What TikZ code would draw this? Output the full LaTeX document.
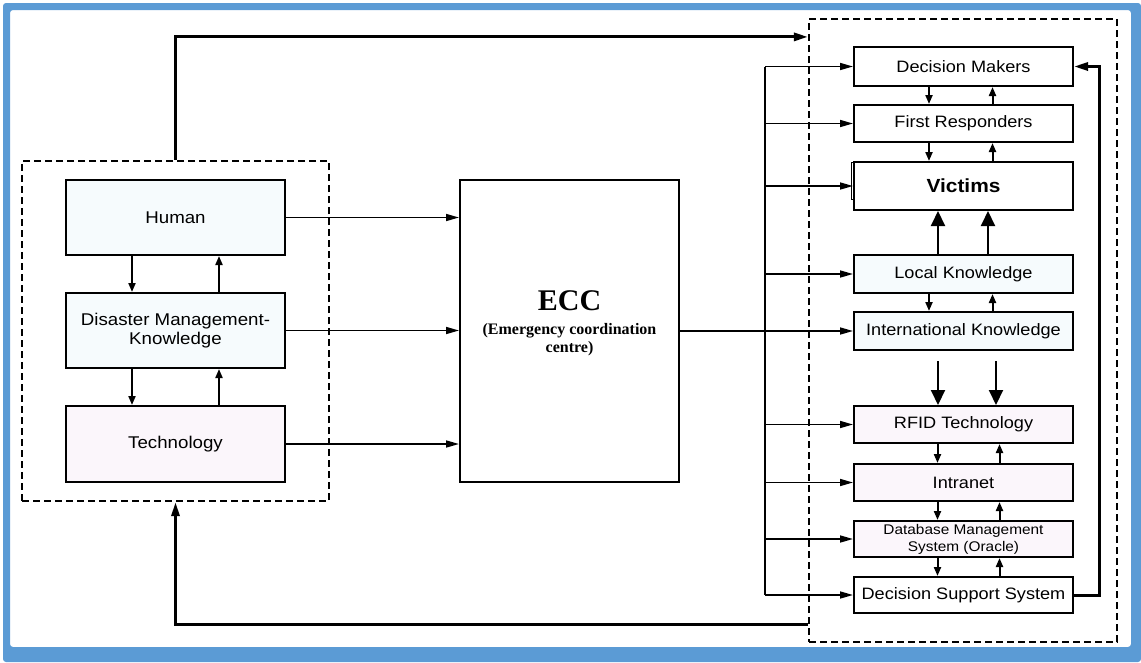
\documentclass[tikz,border=0pt]{standalone}
\usepackage{fontspec}
\setmainfont{Liberation Serif}
\newfontfamily\boxfont[FakeStretch=1.1]{Liberation Sans}
\usetikzlibrary{arrows.meta,positioning}
\definecolor{framebl}{HTML}{5B9BD5}
\definecolor{cyanfill}{HTML}{F6FBFD}
\definecolor{lilacfill}{HTML}{FBF6FB}

\begin{document}
\begin{tikzpicture}[x=1pt,y=-1pt,
    every node/.style={font=\boxfont\fontsize{16.5}{19}\selectfont},
    box/.style={draw,line width=2pt,minimum width=219pt,inner sep=0pt,align=center},
    group/.style={draw,line width=2.2pt,dash pattern=on 7pt off 4pt,inner sep=0pt},
    arr/.style={line width=2pt,-{Triangle[length=9pt,width=7pt]}},
    thinarr/.style={line width=1.6pt,-{Triangle[length=13pt,width=7pt]}},
    bigarr/.style={line width=2pt,-{Triangle[length=15pt,width=14pt]}},
    loop/.style={line width=3pt,-{Triangle[length=14pt,width=8pt]}}]
    \useasboundingbox (0,0) rectangle (1141,662);
    \fill[framebl,even odd rule,rounded corners=3pt] (3,3) rectangle (1141,662) (10,10) rectangle (1131,647);

    % left group
    \node[group,minimum width=307pt,minimum height=340pt] (lgroup) at (175.5,331) {};
    \node[box,fill=cyanfill,minimum height=75pt,font=\boxfont\fontsize{17}{19}\selectfont] (human) at (175.5,217.5) {Human};
    \node[box,fill=cyanfill,minimum height=75pt,font=\boxfont\fontsize{17}{19}\selectfont] (dmk) at (175.5,330.5) {Disaster Management-\\Knowledge};
    \node[box,fill=lilacfill,minimum height=76pt,font=\boxfont\fontsize{17}{19}\selectfont] (tech) at (175.5,444) {Technology};

    % ECC
    \node[box,minimum height=302pt] (ecc) at (569.5,331) {};
    \node[font=\rmfamily\bfseries\fontsize{16}{18}\selectfont,align=center] (ecclabel) at ([yshift=8pt]ecc.center)
        {{\fontsize{30}{32}\selectfont ECC}\\[6pt](Emergency coordination\\centre)};

    % right group
    \node[group,minimum width=308pt,minimum height=623pt] (rgroup) at (963,330.5) {};
    \node[box,minimum height=39pt] (dm) at (963.5,66.5) {Decision Makers};
    \node[box,minimum height=37pt] (fr) at (963.5,123.5) {First Responders};
    \draw[line width=1pt] (851,162) rectangle (1071,199);
    \node[box,fill=white,minimum height=48pt,font=\boxfont\bfseries\fontsize{19}{22}\selectfont] (vic) at (963.5,186) {Victims};
    \node[box,fill=cyanfill,minimum height=38pt] (lk) at (963.5,274) {Local Knowledge};
    \node[box,fill=cyanfill,minimum height=38pt] (ik) at (963.5,331) {International Knowledge};
    \node[box,fill=lilacfill,minimum height=37pt] (rfid) at (963.5,424.5) {RFID Technology};
    \node[box,fill=lilacfill,minimum height=37pt] (intra) at (963.5,482.5) {Intranet};
    \node[box,fill=lilacfill,minimum height=36pt,font=\boxfont\fontsize{14}{17}\selectfont] (dbms) at (963.5,539) {Database Management\\System (Oracle)};
    \node[box,minimum height=36pt] (dss) at (963.5,595) {Decision Support System};

    % arrows between boxes
    \foreach \a/\b in {human/dmk,dmk/tech} {
        \draw[arr] ([xshift=-43.5pt]\a.south) -- ([xshift=-43.5pt]\b.north);
        \draw[arr] ([xshift=43.5pt]\b.north) -- ([xshift=43.5pt]\a.south);
    }
    \foreach \a/\b in {dm/fr,fr/vic,lk/ik} {
        \draw[arr] ([xshift=-34.5pt]\a.south) -- ([xshift=-34.5pt]\b.north);
        \draw[arr] ([xshift=29pt]\b.north) -- ([xshift=29pt]\a.south);
    }
    \foreach \a/\b in {rfid/intra,intra/dbms,dbms/dss} {
        \draw[arr] ([xshift=-26pt]\a.south) -- ([xshift=-26pt]\b.north);
        \draw[arr] ([xshift=36pt]\b.north) -- ([xshift=36pt]\a.south);
    }
    \foreach \dx in {-25.5,24.5}
        \draw[bigarr] ([xshift=\dx pt]lk.north) -- ([xshift=\dx pt]vic.south);
    \foreach \dx in {-25.5,32.5}
        \draw[bigarr] ([xshift=\dx pt,yshift=-10pt]ik.south) -- ([xshift=\dx pt]rfid.north);

    % into and out of ECC
    \foreach \n in {human,dmk,tech}
        \draw[thinarr] (\n.east) -- (ecc.west |- \n.east);
    \draw[thinarr] (ecc.east) -- (ik.west);

    % bus
    \coordinate (bus) at (765,0);
    \draw[line width=2.5pt] (bus |- dm.west) -- (bus |- dss.west);
    \foreach \n in {dm,fr,vic,lk,rfid,intra,dbms,dss}
        \draw[thinarr] (bus |- \n.west) -- (\n.west);

    % feedback loops
    \draw[loop] (dss.east) -| ([xshift=25pt]dm.east) -- (dm.east);
    \draw[loop] (lgroup.north) |- ([yshift=-19pt]rgroup.north west);
    \draw[loop] ([yshift=19pt]rgroup.south west) -| (lgroup.south);
\end{tikzpicture}
\end{document}
